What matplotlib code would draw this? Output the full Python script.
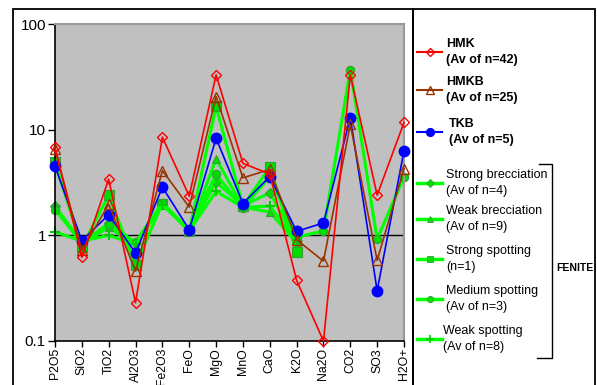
import numpy as np
import matplotlib
matplotlib.use("Agg")
import matplotlib.pyplot as plt
from matplotlib.patches import Rectangle

plt.rcParams['font.family'] = ['Liberation Sans', 'DejaVu Sans']

categories = ["P2O5", "SiO2", "TiO2", "Al2O3", "Fe2O3", "FeO", "MgO", "MnO",
              "CaO", "K2O", "Na2O", "CO2", "SO3", "H2O+"]
nan = np.nan
hmk = [6.8, 0.62, 3.4, 0.23, 8.5, 2.35, 33, 4.8, 3.8, 0.375, 0.1, 33, 2.4, 11.7]
hmkb = [6.6, 0.72, 1.97, 0.46, 4.1, 1.85, 20.6, 3.5, 4.2, 0.91, 0.57, 11.2, 0.58, 4.27]
tkb = [4.5, 0.89, 1.57, 0.68, 2.86, 1.13, 8.3, 2.0, 3.6, 1.09, 1.31, 13, 0.30, 6.3]
strong_brec = [1.9, 0.85, 1.3, 0.85, 2.0, 1.12, 3.2, 1.9, 2.53, 0.88, nan, nan, nan, nan]
weak_brec = [1.85, 0.82, 1.2, 0.8, 2.0, 1.1, 5.3, 1.85, 1.66, 0.85, nan, nan, nan, nan]
strong_spot = [4.9, 0.78, 2.4, 0.52, 2.0, 1.1, 16.6, 1.9, 4.4, 0.69, nan, nan, nan, nan]
medium_spot = [1.75, 0.85, 1.24, 0.86, 2.04, 1.12, 3.8, 1.81, 3.6, 0.96, 1.1, 37, 0.92, 3.57]
weak_spot = [1.08, 0.88, 1.0, 0.82, 1.95, 1.1, 2.6, 1.85, 1.89, 0.9, nan, nan, nan, nan]

main_series = [
    ("HMK", "(Av of n=42)", hmk, "#FF0000", "D", "none", 5.5),
    ("HMKB", "(Av of n=25)", hmkb, "#993300", "^", "none", 7),
    ("TKB", "(Av of n=5)", tkb, "#0000FF", "o", "#0000FF", 7.5),
]
green_series = [
    ("Strong brecciation", "(Av of n=4)", strong_brec, "D", 5),
    ("Weak brecciation", "(Av of n=9)", weak_brec, "^", 6),
    ("Strong spotting", "(n=1)", strong_spot, "s", 6.5),
    ("Medium spotting", "(Av of n=3)", medium_spot, "o", 6),
    ("Weak spotting", "(Av of n=8)", weak_spot, "P", 6),
]
GREEN = "#00FF00"
GFACE = "#00DD00"
GEDGE = "#3A9A3A"

W, H = 597, 385
fig = plt.figure(figsize=(W / 100, H / 100), dpi=100)

def fx(px):
    return px / W

def fy(py):
    return 1 - py / H

# frames
fig.patches.append(Rectangle((fx(13), fy(400)), fx(413) - fx(13), fy(9) - fy(400),
                             transform=fig.transFigure, fill=False, ec="black", lw=1.3))
fig.patches.append(Rectangle((fx(413), fy(400)), fx(595) - fx(413), fy(9) - fy(400),
                             transform=fig.transFigure, fill=False, ec="black", lw=1.3))

ax = fig.add_axes([fx(55), fy(341), fx(404) - fx(55), fy(24) - fy(341)])
ax.set_facecolor("#C0C0C0")
x = np.arange(len(categories))

for name, sub, vals, mk, ms in green_series:
    kw = dict(marker=mk, markersize=ms, markerfacecolor=GFACE, markeredgecolor=GEDGE,
              markeredgewidth=0.8)
    if mk == "P":
        kw = dict(marker="+", markersize=7, markeredgecolor="#00CC00", markeredgewidth=1.5)
    ax.plot(x, vals, color=GREEN, lw=2.2, zorder=2, clip_on=False, **kw)

for name, sub, vals, col, mk, fc, ms in reversed(main_series):
    ax.plot(x, vals, color=col, lw=1.2, marker=mk, markersize=ms,
            markerfacecolor=fc, markeredgecolor=col, markeredgewidth=1.0, zorder=3,
            clip_on=False)

ax.axhline(1, color="black", lw=1.0, zorder=1)
ax.set_yscale("log")
ax.set_ylim(0.1, 100)
ax.set_xlim(0, len(categories) - 1)
ax.set_yticks([0.1, 1, 10, 100])
ax.set_yticklabels(["0.1", "1", "10", "100"])
ax.yaxis.set_minor_locator(matplotlib.ticker.NullLocator())
ax.set_xticks(x)
ax.set_xticklabels(categories, rotation=90)
ax.tick_params(axis="both", direction="out", length=4, width=1, colors="black", pad=1.5)
ax.tick_params(axis="y", labelsize=11, length=5)
ax.tick_params(axis="x", labelsize=8.8, pad=1)
for s in ["left", "bottom"]:
    ax.spines[s].set_color("black")
    ax.spines[s].set_linewidth(1.2)
for s in ["top", "right"]:
    ax.spines[s].set_color("#999999")
    ax.spines[s].set_linewidth(1.5)

# legend drawn in a pixel-coordinate axes
lax = fig.add_axes([0, 0, 1, 1])
lax.set_xlim(0, W)
lax.set_ylim(H, 0)
lax.axis("off")

main_y = [52, 90, 132]
text_x = [446, 446, 449]
for (name, sub, vals, col, mk, fc, ms), yy, tx in zip(main_series, main_y, text_x):
    lax.plot([417, 429.5, 442], [yy, yy, yy], color=col, lw=1.5, marker=mk,
             markersize=ms * 0.75, markevery=[1],
             markerfacecolor=fc, markeredgecolor=col)
    lax.text(tx, yy - 8, name, fontsize=9, fontweight="bold", va="center", ha="left")
    lax.text(tx, yy + 8, sub, fontsize=9, fontweight="bold", va="center", ha="left")

green_y = [183, 219, 259, 299, 339]
gtext_x = [446, 446, 446, 446, 443]
for (name, sub, vals, mk, ms), yy, tx in zip(green_series, green_y, gtext_x):
    if mk == "P":
        lkw = dict(marker="+", markersize=6, markeredgecolor="#00CC00", markeredgewidth=1.2)
    else:
        lkw = dict(marker=mk, markersize=ms * 0.75, markerfacecolor=GFACE,
                   markeredgecolor=GEDGE, markeredgewidth=0.6)
    lax.plot([417, 429.5, 442], [yy, yy, yy], color=GREEN, lw=2.5, markevery=[1], **lkw)
    lax.text(tx, yy - 8, name, fontsize=9, va="center", ha="left")
    lax.text(tx, yy + 8, sub, fontsize=9, va="center", ha="left")

# bracket for FENITE group
lax.plot([539, 552, 552, 537], [164, 164, 358, 358], color="black", lw=1.0)
lax.text(556, 268, "FENITE", fontsize=7.5, fontweight="bold", va="center", ha="left")

fig.savefig("out.png", dpi=100)
